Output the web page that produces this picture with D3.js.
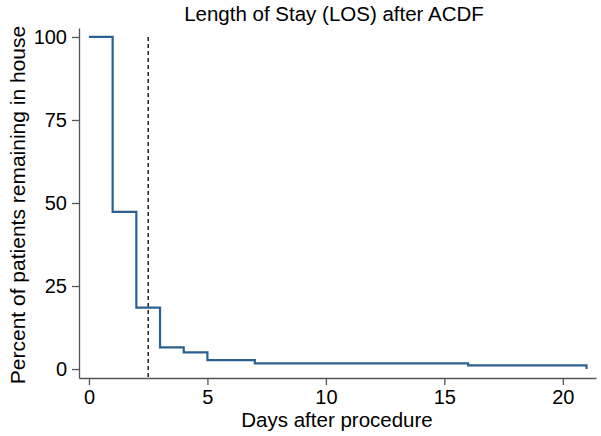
<!DOCTYPE html>
<html><head><meta charset="utf-8">
<script src="https://cdn.jsdelivr.net/npm/d3@7"></script>
<style>body{margin:0;background:#fff}svg{display:block}text{font-family:"Liberation Sans",Arial,sans-serif;fill:#000}</style>
</head><body><svg id="c" width="601" height="436"></svg>
<script>
const stepDays = [0, 1, 2, 3, 4, 5, 7, 16, 21];
const stepPercent = [100, 47.3, 18.5, 6.5, 5.0, 2.7, 1.7, 1.1, 0];
const xTicks = [0, 5, 10, 15, 20];
const yTicks = [0, 25, 50, 75, 100];
const medianDay = 2.5;
const title = "Length of Stay (LOS) after ACDF";
const xLabel = "Days after procedure";
const yLabel = "Percent of patients remaining in house";

const svg = d3.select("#c");
const mLeft = 79, mRight = 596, mTop = 28, mBottom = 378;
const x = d3.scaleLinear().domain([-0.42, 21.4]).range([mLeft, mRight]);
const y = d3.scaleLinear().domain([-2.7, 102.7]).range([mBottom, mTop]);

const axColor = "#555";
const gx = svg.append("g").attr("transform", `translate(0,${mBottom})`)
  .call(d3.axisBottom(x).tickValues(xTicks).tickSize(7).tickPadding(5).tickSizeOuter(0));
const gy = svg.append("g").attr("transform", `translate(${mLeft},0)`)
  .call(d3.axisLeft(y).tickValues(yTicks).tickSize(7).tickPadding(5).tickSizeOuter(0));
[gx, gy].forEach(g => {
  g.select(".domain").attr("stroke", axColor).attr("stroke-width", 1.3);
  g.selectAll(".tick line").attr("stroke", axColor).attr("stroke-width", 1.3);
  g.selectAll(".tick text").style("font-size", "20px").attr("fill", "#000");
});

svg.append("line").attr("x1", x(medianDay)).attr("x2", x(medianDay))
  .attr("y1", y(100)).attr("y2", mBottom)
  .attr("stroke", "#000").attr("stroke-width", 1.3).attr("stroke-dasharray", "4,3");

const data = stepDays.map((d, i) => ({d, p: stepPercent[i]}));
const line = d3.line().x(v => x(v.d)).y(v => y(v.p)).curve(d3.curveStepAfter);
svg.append("path").datum(data).attr("d", line)
  .attr("fill", "none").attr("stroke", "#2b6190").attr("stroke-width", 2.2);

svg.append("text").attr("x", 334).attr("y", 21).attr("text-anchor", "middle")
  .style("font-size", "20.5px").text(title);
svg.append("text").attr("x", 337).attr("y", 427).attr("text-anchor", "middle")
  .style("font-size", "20.5px").text(xLabel);
svg.append("text").attr("transform", `translate(25,205) rotate(-90)`)
  .attr("text-anchor", "middle").style("font-size", "21px").text(yLabel);
</script></body></html>
